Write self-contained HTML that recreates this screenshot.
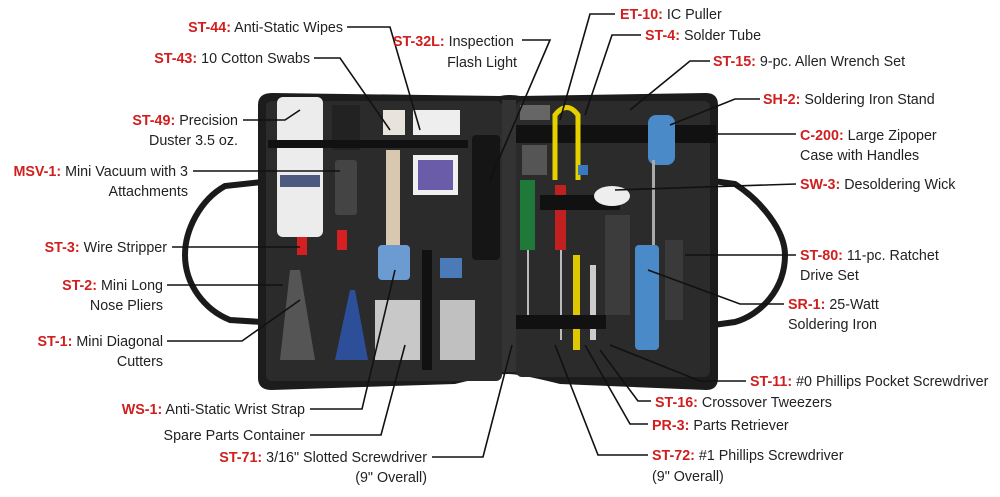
<!DOCTYPE html>
<html><head><meta charset="utf-8"><style>
html,body{margin:0;padding:0;background:#fff;}
svg{display:block;}
text{font-family:"Liberation Sans",sans-serif;font-size:14.3px;fill:#222;}
.r{fill:#d11f1f;font-weight:bold;}
.e{text-anchor:end;}
.l{stroke:#111;stroke-width:1.6;fill:none;}
</style></head><body>
<svg width="1000" height="497" viewBox="0 0 1000 497" xmlns="http://www.w3.org/2000/svg">
<!-- handles -->
<path d="M262 182 L225 186 C200 200 185 230 185 255 C185 285 205 310 230 320 L262 322" stroke="#1a1a1a" stroke-width="6" fill="none"/>
<path d="M706 180 L735 184 C760 200 785 230 785 255 C785 290 760 315 735 322 L706 326" stroke="#1a1a1a" stroke-width="6" fill="none"/>
<!-- case -->
<path d="M272 93 L500 96 Q510 94 520 96 L706 93 Q718 93 718 105 L718 378 Q718 390 706 390 L560 384 Q520 374 508 374 Q495 374 455 384 L272 390 Q258 390 258 378 L258 105 Q258 93 272 93 Z" fill="#1c1c1c"/>
<rect x="266" y="101" width="236" height="280" rx="6" fill="#2b2b2b"/>
<rect x="516" y="101" width="194" height="276" rx="6" fill="#2b2b2b"/>
<rect x="502" y="100" width="14" height="272" fill="#333"/>
<!-- left panel items -->
<rect x="277" y="97" width="46" height="140" rx="6" fill="#ececec"/>
<rect x="280" y="175" width="40" height="12" fill="#4d5a80"/>
<rect x="297" y="237" width="10" height="18" fill="#d42020"/>
<rect x="337" y="230" width="10" height="20" fill="#d42020"/>
<rect x="332" y="105" width="28" height="45" fill="#222"/>
<rect x="335" y="160" width="22" height="55" rx="3" fill="#444"/>
<rect x="268" y="140" width="200" height="8" fill="#111"/>
<rect x="383" y="110" width="22" height="25" fill="#e8e4dc"/>
<rect x="386" y="150" width="14" height="110" fill="#d8c8b0"/>
<rect x="413" y="110" width="47" height="25" fill="#eee"/>
<rect x="413" y="155" width="45" height="40" fill="#f0f0f0"/>
<rect x="418" y="160" width="35" height="30" fill="#6a5ca8"/>
<rect x="472" y="135" width="28" height="125" rx="4" fill="#151515"/>
<rect x="378" y="245" width="32" height="35" rx="4" fill="#6b9bd0"/>
<rect x="440" y="258" width="22" height="20" fill="#4a7ab8"/>
<rect x="375" y="300" width="45" height="60" fill="#c8c8c8"/>
<rect x="440" y="300" width="35" height="60" fill="#c0c0c0"/>
<rect x="422" y="250" width="10" height="120" fill="#111"/>
<path d="M335 360 L350 290 L355 290 L368 360 Z" fill="#2d4f9a"/>
<path d="M280 360 L290 270 L300 270 L315 360 Z" fill="#555"/>
<!-- right panel items -->
<rect x="516" y="125" width="200" height="18" fill="#111"/>
<rect x="520" y="105" width="30" height="15" fill="#666"/>
<rect x="522" y="145" width="25" height="30" fill="#555"/>
<path d="M555 180 L555 115 Q567 100 578 115 L578 180" stroke="#e6d000" stroke-width="5" fill="none"/>
<rect x="578" y="165" width="10" height="10" fill="#3a78c0"/>
<rect x="520" y="180" width="15" height="70" fill="#1f7a3a"/>
<rect x="555" y="185" width="11" height="65" fill="#c02020"/>
<rect x="540" y="195" width="80" height="15" fill="#111"/>
<rect x="527" y="250" width="2" height="70" fill="#bbb"/>
<rect x="560" y="250" width="2" height="90" fill="#bbb"/>
<rect x="573" y="255" width="7" height="95" fill="#e0c800"/>
<rect x="590" y="265" width="6" height="75" fill="#ccc"/>
<ellipse cx="612" cy="196" rx="18" ry="10" fill="#eee"/>
<rect x="605" y="215" width="25" height="100" fill="#3c3c3c"/>
<rect x="648" y="115" width="27" height="50" rx="8" fill="#4a8ac8"/>
<rect x="652" y="160" width="3" height="85" fill="#aaa"/>
<rect x="635" y="245" width="24" height="105" rx="4" fill="#4a8ac8"/>
<rect x="665" y="240" width="18" height="80" fill="#3a3a3a"/>
<rect x="516" y="315" width="90" height="14" fill="#111"/>
<!-- leader lines -->
<polyline class="l" points="347,27 390,27 420,130"/>
<polyline class="l" points="314,58 340,58 390,130"/>
<polyline class="l" points="522,40 550,40 490,180"/>
<polyline class="l" points="615,14 590,14 560,120"/>
<polyline class="l" points="641,35 612,35 585,115"/>
<polyline class="l" points="710,61 690,61 630,110"/>
<polyline class="l" points="760,99 735,99 670,125"/>
<polyline class="l" points="796,134 712,134"/>
<polyline class="l" points="796,184 615,190"/>
<polyline class="l" points="796,255 685,255"/>
<polyline class="l" points="784,304 740,304 648,270"/>
<polyline class="l" points="746,381 700,381 610,345"/>
<polyline class="l" points="651,401 638,401 600,350"/>
<polyline class="l" points="648,424 630,424 585,345"/>
<polyline class="l" points="648,455 598,455 555,345"/>
<polyline class="l" points="243,120 285,120 300,110"/>
<polyline class="l" points="193,171 340,171"/>
<polyline class="l" points="172,247 300,247"/>
<polyline class="l" points="167,285 283,285"/>
<polyline class="l" points="167,341 242,341 300,300"/>
<polyline class="l" points="310,409 362,409 395,270"/>
<polyline class="l" points="310,435 381,435 405,345"/>
<polyline class="l" points="432,457 483,457 512,345"/>
<!-- labels -->
<text class="e" x="343" y="32"><tspan class="r">ST-44:</tspan> Anti-Static Wipes</text>
<text class="e" x="310" y="63"><tspan class="r">ST-43:</tspan> 10 Cotton Swabs</text>
<text x="393" y="46"><tspan class="r">ST-32L:</tspan> Inspection</text>
<text class="e" x="517" y="67">Flash Light</text>
<text x="620" y="19"><tspan class="r">ET-10:</tspan> IC Puller</text>
<text x="645" y="40"><tspan class="r">ST-4:</tspan> Solder Tube</text>
<text x="713" y="66"><tspan class="r">ST-15:</tspan> 9-pc. Allen Wrench Set</text>
<text x="763" y="104"><tspan class="r">SH-2:</tspan> Soldering Iron Stand</text>
<text x="800" y="140"><tspan class="r">C-200:</tspan> Large Zipoper</text>
<text x="800" y="160">Case with Handles</text>
<text x="800" y="189"><tspan class="r">SW-3:</tspan> Desoldering Wick</text>
<text x="800" y="260"><tspan class="r">ST-80:</tspan> 11-pc. Ratchet</text>
<text x="800" y="280">Drive Set</text>
<text x="788" y="309"><tspan class="r">SR-1:</tspan> 25-Watt</text>
<text x="788" y="329">Soldering Iron</text>
<text x="750" y="386"><tspan class="r">ST-11:</tspan> #0 Phillips Pocket Screwdriver</text>
<text x="655" y="407"><tspan class="r">ST-16:</tspan> Crossover Tweezers</text>
<text x="652" y="430"><tspan class="r">PR-3:</tspan> Parts Retriever</text>
<text x="652" y="460"><tspan class="r">ST-72:</tspan> #1 Phillips Screwdriver</text>
<text x="652" y="481">(9" Overall)</text>
<text class="e" x="238" y="125"><tspan class="r">ST-49:</tspan> Precision</text>
<text class="e" x="238" y="145">Duster 3.5 oz.</text>
<text class="e" x="188" y="176"><tspan class="r">MSV-1:</tspan> Mini Vacuum with 3</text>
<text class="e" x="188" y="196">Attachments</text>
<text class="e" x="167" y="252"><tspan class="r">ST-3:</tspan> Wire Stripper</text>
<text class="e" x="163" y="290"><tspan class="r">ST-2:</tspan> Mini Long</text>
<text class="e" x="163" y="310">Nose Pliers</text>
<text class="e" x="163" y="346"><tspan class="r">ST-1:</tspan> Mini Diagonal</text>
<text class="e" x="163" y="366">Cutters</text>
<text class="e" x="305" y="414"><tspan class="r">WS-1:</tspan> Anti-Static Wrist Strap</text>
<text class="e" x="305" y="440">Spare Parts Container</text>
<text class="e" x="427" y="462"><tspan class="r">ST-71:</tspan> 3/16" Slotted Screwdriver</text>
<text class="e" x="427" y="482">(9" Overall)</text>
</svg>
</body></html>
